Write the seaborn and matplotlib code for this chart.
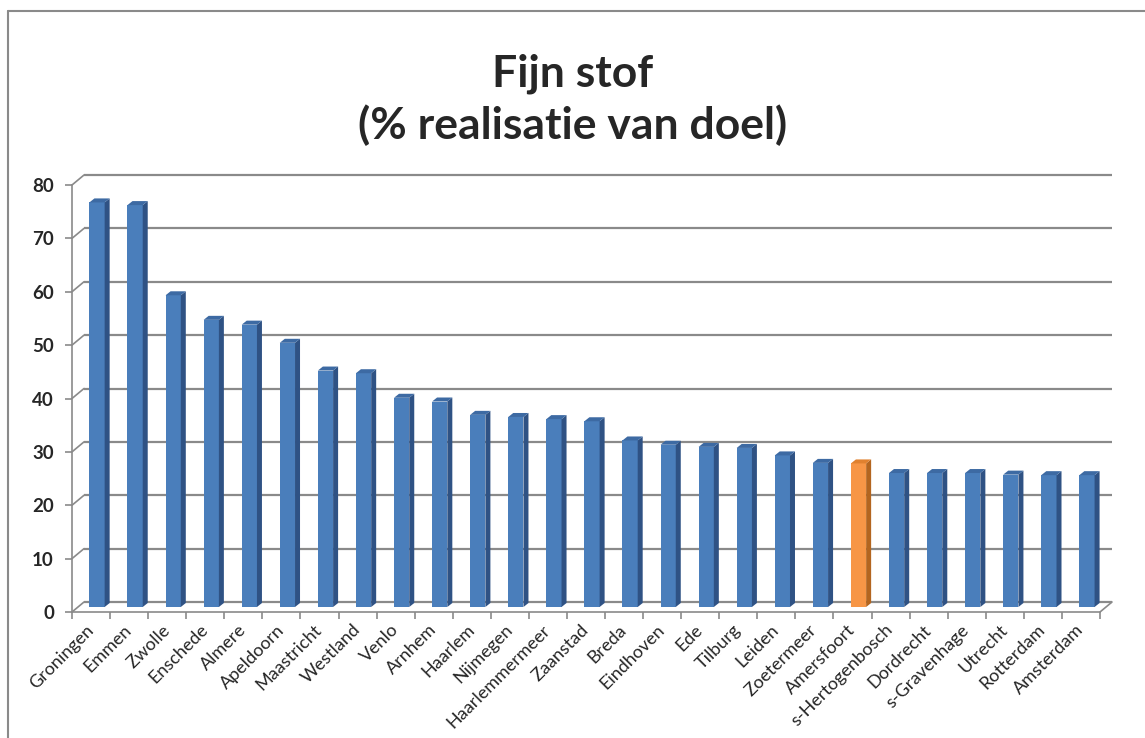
import matplotlib
matplotlib.use("Agg")
import matplotlib.pyplot as plt
import matplotlib.transforms as mtransforms
from matplotlib.patches import Polygon
import seaborn as sns

# data
cities = ["Groningen", "Emmen", "Zwolle", "Enschede", "Almere", "Apeldoorn",
          "Maastricht", "Westland", "Venlo", "Arnhem", "Haarlem", "Nijmegen",
          "Haarlemmermeer", "Zaanstad", "Breda", "Eindhoven", "Ede", "Tilburg",
          "Leiden", "Zoetermeer", "Amersfoort", "s-Hertogenbosch", "Dordrecht",
          "s-Gravenhage", "Utrecht", "Rotterdam", "Amsterdam"]
realisatie = [75.8, 75.3, 58.4, 53.8, 52.9, 49.5, 44.3, 43.8, 39.2, 38.5,
              36.0, 35.6, 35.2, 34.8, 31.2, 30.4, 30.0, 29.8, 28.4, 27.0,
              26.9, 25.1, 25.1, 25.1, 24.8, 24.7, 24.7]
highlight = "Amersfoort"
y_ticks = [0, 10, 20, 30, 40, 50, 60, 70, 80]

blue = ("#4a7ebb", "#2f5284", "#3d6aa3")     # front, side, top
orange = ("#f79646", "#b3651f", "#e0812f")
grid_col = "#8a8a8a"

sns.set_style("white")
plt.rcParams["font.family"] = ["Lato", "DejaVu Sans"]

fig = plt.figure(figsize=(11.45, 7.38), dpi=100)
ax = fig.add_axes([72 / 1145, 1 - 612 / 738, 1028 / 1145, 427 / 738])

palette = {c: (orange[0] if c == highlight else blue[0]) for c in cities}
sns.barplot(x=cities, y=realisatie, hue=cities, palette=palette, legend=False,
            width=0.4, saturation=1, linewidth=0, ax=ax, zorder=3)

n = len(cities)
ax.set_xlim(-0.5, n - 0.5)
ax.set_ylim(0, 80)

# pixel -> data conversion for the fake 3D depth
ppx = 1028 / n
ppy = 427 / 80
bx, by = 12 / ppx, 10 / ppy      # back wall offset
dx, dy = 5 / ppx, 4 / ppy        # bar depth

# back wall gridlines and floor
ax.hlines([t + by for t in y_ticks], -0.5 + bx, n - 0.5 + bx,
          color=grid_col, lw=1.6, zorder=0, clip_on=False)
for t in y_ticks:
    ax.plot([-0.5, -0.5 + bx], [t, t + by], color=grid_col, lw=1.2,
            zorder=0, clip_on=False)
ax.plot([n - 0.5, n - 0.5 + bx], [0, by], color=grid_col, lw=1.2,
        zorder=0, clip_on=False)

# bars sit half way in the depth: shift them and add side / top faces
shift = mtransforms.offset_copy(ax.transData, fig=fig, x=6, y=5, units="dots")
for patch, city in zip(ax.patches, cities):
    cols = orange if city == highlight else blue
    patch.set_transform(shift)
    x0 = patch.get_x()
    x1 = x0 + patch.get_width()
    h = patch.get_height()
    side = Polygon([(x1, 0), (x1, h), (x1 + dx, h + dy), (x1 + dx, dy)],
                   closed=True, facecolor=cols[1], edgecolor="none",
                   transform=shift, zorder=3, clip_on=False)
    top = Polygon([(x0, h), (x1, h), (x1 + dx, h + dy), (x0 + dx, h + dy)],
                  closed=True, facecolor=cols[2], edgecolor="none",
                  transform=shift, zorder=3, clip_on=False)
    ax.add_patch(side)
    ax.add_patch(top)

# axes styling
sns.despine(ax=ax, top=True, right=True)
for s in ["left", "bottom"]:
    ax.spines[s].set_color(grid_col)
    ax.spines[s].set_linewidth(1.2)
ax.set_yticks(y_ticks)
ax.set_yticklabels([str(t) for t in y_ticks], fontsize=13.5, fontweight="bold")
ax.tick_params(axis="y", length=5, width=1.2, color=grid_col, pad=8, left=True)
ax.set_xticks(range(n))
ax.set_xticklabels(cities, fontsize=13, rotation=45, ha="right",
                   va="center", rotation_mode="anchor")
ax.tick_params(axis="x", which="major", length=0, pad=11)
ax.set_xticks([i + 0.5 for i in range(-1, n)], minor=True)
ax.tick_params(axis="x", which="minor", length=5, width=1.2, color=grid_col,
               bottom=True)
ax.set_xlabel("")
ax.set_ylabel("")

fig.text(0.5, 1 - 87 / 738, "Fijn stof", ha="center", va="baseline",
         fontsize=32, fontweight="bold")
fig.text(0.5, 1 - 139 / 738, "(% realisatie van doel)", ha="center",
         va="baseline", fontsize=32, fontweight="bold")

# chart frame (only top and left edges are visible in the picture)
fig.add_artist(plt.Line2D([8 / 1145, 1], [1 - 11 / 738, 1 - 11 / 738],
                          color="#8a8a8a", lw=1.5))
fig.add_artist(plt.Line2D([8 / 1145, 8 / 1145], [0, 1 - 11 / 738],
                          color="#8a8a8a", lw=1.5))

fig.savefig("out.png", dpi=100)
